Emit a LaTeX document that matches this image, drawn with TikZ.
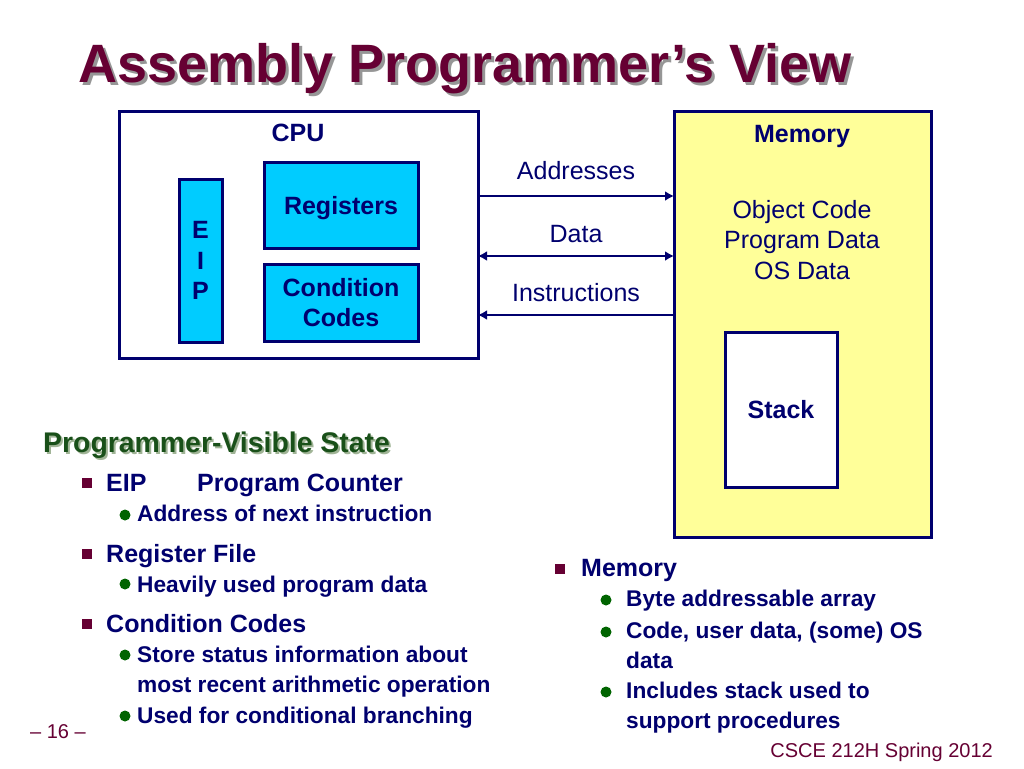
\documentclass[tikz,border=0pt]{standalone}
\usepackage{fontspec}
\setmainfont{Liberation Sans}
\usetikzlibrary{calc,arrows.meta}
\definecolor{navy}{RGB}{0,0,110}
\definecolor{maroon}{RGB}{102,0,51}
\definecolor{shadowgray}{RGB}{150,150,150}
\definecolor{headgreen}{RGB}{25,80,25}
\definecolor{headshadow}{RGB}{160,180,150}
\definecolor{dotgreen}{RGB}{0,100,0}
\definecolor{regcyan}{RGB}{0,204,255}
\definecolor{memyellow}{RGB}{255,255,153}
\begin{document}
\begin{tikzpicture}[x=1pt,y=-1pt,
  title/.style={font=\fontsize{54}{60}\selectfont\bfseries,text=maroon,inner sep=0pt,anchor=base west},
  heading/.style={font=\fontsize{28.4}{32}\selectfont\bfseries,text=headgreen,inner sep=0pt,anchor=base west},
  txt/.style={font=\fontsize{25}{30.5}\selectfont,text=navy,inner sep=0pt},
  bold/.style={font=\fontsize{25}{30.5}\selectfont\bfseries,text=navy,inner sep=0pt},
  item/.style={bold,anchor=base west},
  subitem/.style={font=\fontsize{22.7}{30}\selectfont\bfseries,text=navy,inner sep=0pt,anchor=base west},
  foot/.style={font=\fontsize{20}{24}\selectfont,text=maroon,inner sep=0pt},
  box/.style={draw=navy,line width=3pt,inner sep=0pt,outer sep=0pt},
  reg/.style={box,fill=regcyan,bold,align=center},
  bus/.style={draw=navy,line width=2.2pt,>={Latex[length=9pt,width=10pt]}},
  sq/.style={fill=maroon,minimum size=10pt,inner sep=0pt},
  dot/.style={circle,fill=dotgreen,minimum size=11pt,inner sep=0pt}]
\useasboundingbox[fill=white] (0,0) rectangle (1024,768);
% title
\node[title,text=shadowgray] (titleshadow) at (81,85) {Assembly Programmer’s View};
\node[title] (title) at (78,82) {Assembly Programmer’s View};
% cpu
\node[box,minimum width=359pt,minimum height=247pt] (cpu) at (298.5,234.5) {};
\node[bold,anchor=base] (cpulbl) at (298,141) {CPU};
\node[reg,minimum width=43pt,minimum height=163pt] (eip) at (200.5,260.5) {E\\I\\P};
\node[reg,text depth=0pt,minimum width=154pt,minimum height=86pt] (regs) at (341,205) {Registers};
\node[reg,minimum width=154pt,minimum height=77pt] (cc) at (341,302.5) {Condition\\Codes};
% memory
\node[box,fill=memyellow,minimum width=257pt,minimum height=426pt] (mem) at (802.5,324) {};
\node[bold,anchor=base] (memlbl) at (802,142) {Memory};
\node[txt,align=center] (memtxt) at (802,240) {Object Code\\Program Data\\OS Data};
\node[box,fill=white,bold,text depth=0pt,minimum width=112pt,minimum height=155pt] (stack) at (781,409.5) {Stack};
% buses
\draw[bus,->] ($(cpu.east)+(0,-38.5)$) -- ($(mem.west)+(0,-128)$) node[midway,above=15pt,txt] (addrlbl) {Addresses};
\draw[bus,<->] ($(cpu.east)+(0,21.5)$) -- ($(mem.west)+(0,-68)$) node[midway,above=12.5pt,txt] (datalbl) {Data};
\draw[bus,<-] ($(cpu.east)+(0,80.5)$) -- ($(mem.west)+(0,-9)$) node[midway,above=12.5pt,txt] (instrlbl) {Instructions};
% programmer-visible state
\node[heading,text=headshadow] (headshadow) at (45,454) {Programmer-Visible State};
\node[heading] (head) at (43,452) {Programmer-Visible State};
\node[sq] (sq1) at (87,483) {};
\node[item] (eipitem) at (106,491) {EIP};
\node[item] (pcitem) at (197,491) {Program Counter};
\node[dot] (dot1) at (125,515) {};
\node[subitem] (addrnext) at (137,521) {Address of next instruction};
\node[sq] (sq2) at (87,554) {};
\node[item] (regfile) at (106,562) {Register File};
\node[dot] (dot2) at (125,584) {};
\node[subitem] (heavily) at (137,592) {Heavily used program data};
\node[sq] (sq3) at (87,624) {};
\node[item] (ccitem) at (106,632) {Condition Codes};
\node[dot] (dot3) at (125,655) {};
\node[subitem] (status1) at (137,662) {Store status information about};
\node[subitem] (status2) at (137,692) {most recent arithmetic operation};
\node[dot] (dot4) at (125,716) {};
\node[subitem] (branch) at (137,723) {Used for conditional branching};
% memory bullets
\node[sq] (sq4) at (560,569) {};
\node[item] (memitem) at (581,576) {Memory};
\node[dot] (dot5) at (606,600) {};
\node[subitem] (byte) at (626,606) {Byte addressable array};
\node[dot] (dot6) at (606,632) {};
\node[subitem] (code1) at (626,638) {Code, user data, (some) OS};
\node[subitem] (code2) at (626,668) {data};
\node[dot] (dot7) at (606,692) {};
\node[subitem] (incl1) at (626,698) {Includes stack used to};
\node[subitem] (incl2) at (626,728) {support procedures};
% footer
\node[foot,anchor=base west] (pagenum) at (30,738) {– 16 –};
\node[foot,anchor=base east] (course) at (993,757) {CSCE 212H Spring 2012};
\end{tikzpicture}
\end{document}
